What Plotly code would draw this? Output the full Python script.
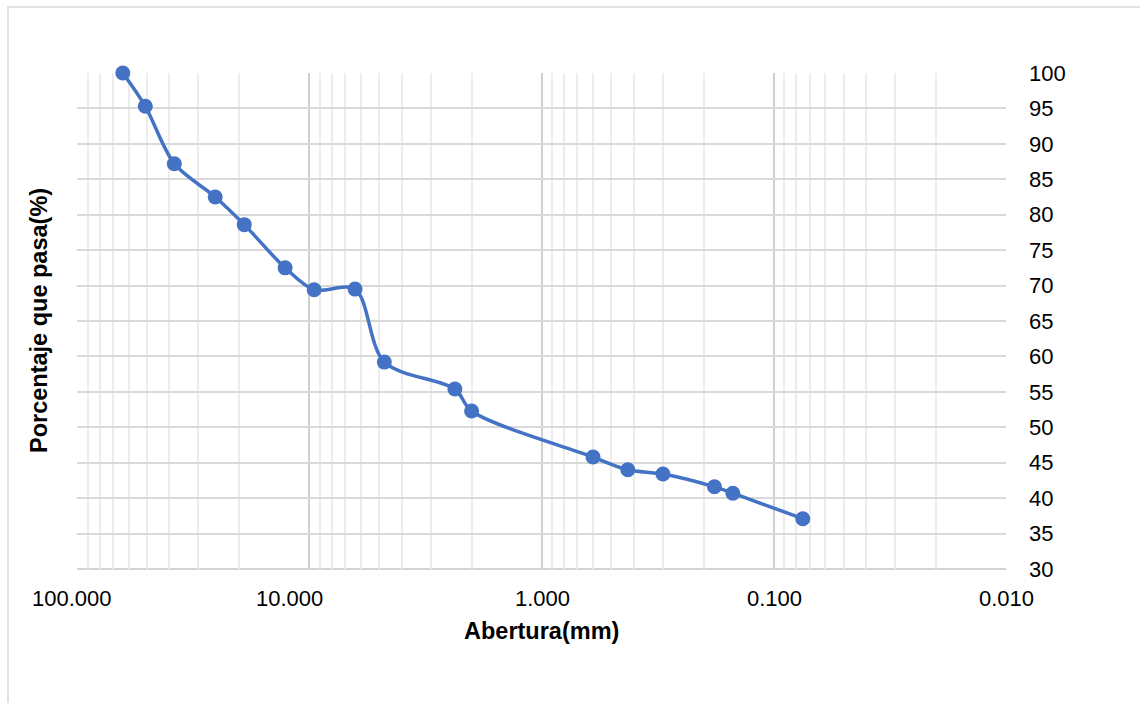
import math
import plotly.graph_objects as go

# Granulometric curve: sieve opening (mm) vs percent passing
abertura_mm = [63.5, 50.8, 38.1, 25.4, 19.05, 12.7, 9.525, 6.35, 4.75,
               2.36, 2.0, 0.6, 0.425, 0.3, 0.18, 0.15, 0.075]
porcentaje_pasa = [100.0, 95.3, 87.2, 82.5, 78.6, 72.5, 69.4, 69.5, 59.2,
                   55.4, 52.3, 45.8, 44.0, 43.4, 41.6, 40.7, 37.1]

x_tick_vals = [100, 10, 1, 0.1, 0.01]
x_tick_text = ["100.000", "10.000", "1.000", "0.100", "0.010"]
x_tick_shift = [-5, -20, 1, 1, 0]
y_tick_vals = list(range(30, 101, 5))

BLUE = "#4472C4"
FONT = "Liberation Sans, Arial, sans-serif"
TICK_SIZE = 22
TITLE_SIZE = 23.5

fig = go.Figure()
fig.add_trace(go.Scatter(
    x=abertura_mm,
    y=porcentaje_pasa,
    mode="lines+markers",
    line=dict(color=BLUE, width=3.5, shape="spline", smoothing=0.9),
    marker=dict(color=BLUE, size=15),
    cliponaxis=False,
    showlegend=False,
))

minor_vals = [m * 10 ** e for e in range(-2, 2) for m in range(2, 10)]

fig.update_layout(
    width=1140, height=703,
    margin=dict(l=77, r=134, t=73, b=134),
    paper_bgcolor="white",
    plot_bgcolor="white",
    font=dict(family=FONT, color="#000000"),
    xaxis=dict(
        type="log",
        range=[2, -2],
        tickvals=x_tick_vals,
        showticklabels=False,
        showgrid=True,
        gridcolor="#cfcfcf",
        gridwidth=1.5,
        zeroline=False,
        showline=False,
        ticks="",
        minor=dict(tickvals=minor_vals, showgrid=True,
                   gridcolor="#ececec", gridwidth=1.5, ticks=""),
        layer="below traces",
    ),
    yaxis=dict(
        range=[30, 100],
        side="right",
        tickvals=y_tick_vals,
        tickfont=dict(size=TICK_SIZE, family=FONT, color="#000000"),
        ticklabelstandoff=22,
        showgrid=True,
        gridcolor="#d9d9d9",
        gridwidth=1.5,
        zeroline=False,
        showline=False,
        ticks="",
    ),
)

# Bottom axis line (slightly darker than the grid)
fig.add_shape(type="line", xref="paper", yref="paper", x0=0, x1=1, y0=0, y1=0,
              line=dict(color="#c6c6c6", width=1.5), layer="below")

# Light outer chart frame
fig.add_shape(type="rect", xref="paper", yref="paper",
              x0=(8 - 77) / 929, x1=(1160 - 77) / 929,
              y0=(569 - 720) / 496, y1=(569 - 7) / 496,
              line=dict(color="#d9d9d9", width=1.5), fillcolor="rgba(0,0,0,0)",
              layer="below")

# X tick labels
for v, t, s in zip(x_tick_vals, x_tick_text, x_tick_shift):
    fig.add_annotation(x=math.log10(v), y=0, xref="x", yref="paper",
                       text=t, showarrow=False, xanchor="center", yanchor="middle",
                       xshift=s, yshift=-29,
                       font=dict(size=TICK_SIZE, family=FONT, color="#000000"))

# Axis titles
fig.add_annotation(x=0.5, y=0, xref="paper", yref="paper",
                   text="<b>Abertura(mm)</b>", showarrow=False,
                   xanchor="center", yanchor="middle", yshift=-62,
                   font=dict(size=TITLE_SIZE, family=FONT, color="#000000"))
fig.add_annotation(x=(39 - 77) / 929, y=0.5, xref="paper", yref="paper",
                   text="<b>Porcentaje que pasa(%)</b>", showarrow=False,
                   textangle=-90, xanchor="center", yanchor="middle",
                   font=dict(size=TITLE_SIZE, family=FONT, color="#000000"))

fig.write_html("out.html")
